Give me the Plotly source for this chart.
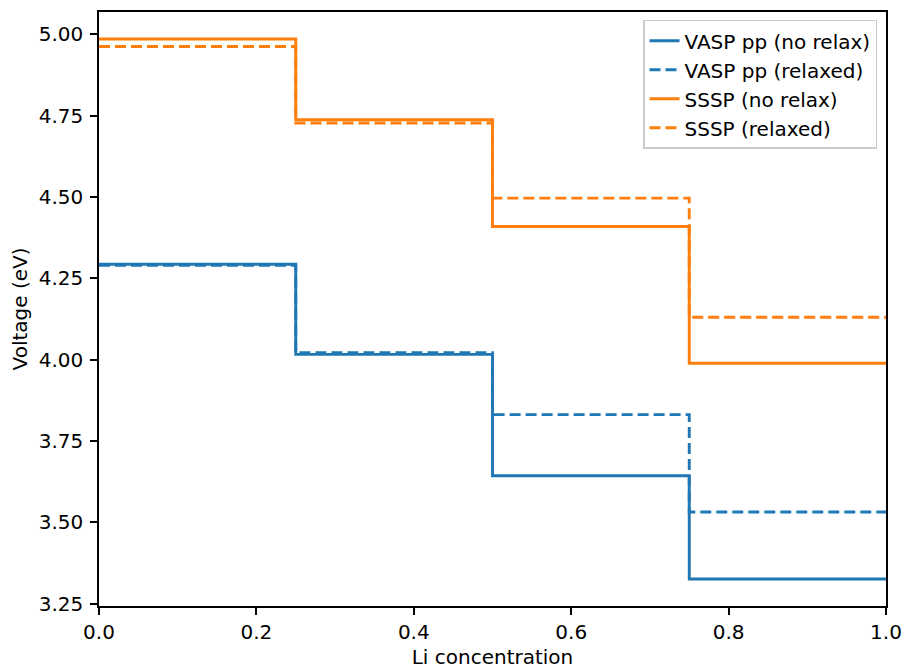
import plotly.graph_objects as go

# Li concentration breakpoints (step edges)
li_conc = [0.0, 0.25, 0.5, 0.75, 1.0]

# Average voltage on each interval (eV)
vasp_norelax = [4.293, 4.016, 3.643, 3.326]
vasp_relaxed = [4.290, 4.021, 3.831, 3.532]
sssp_norelax = [4.985, 4.737, 4.409, 3.989]
sssp_relaxed = [4.962, 4.727, 4.496, 4.130]

series_names = ["VASP pp (no relax)", "VASP pp (relaxed)",
                "SSSP (no relax)", "SSSP (relaxed)"]

BLUE = "#1f77b4"
ORANGE = "#ff7f0e"
FONT = "DejaVu Sans"
FS = 20

fig = go.Figure()

styles = [(vasp_norelax, BLUE, "solid"),
          (vasp_relaxed, BLUE, "11px,5px"),
          (sssp_norelax, ORANGE, "solid"),
          (sssp_relaxed, ORANGE, "11px,5px")]

for name, (vals, color, dash) in zip(series_names, styles):
    fig.add_trace(go.Scatter(
        x=li_conc,
        y=vals + [vals[-1]],
        mode="lines",
        name=name,
        line=dict(color=color, width=2.9, dash=dash, shape="hv"),
    ))

axis_common = dict(
    showline=True, linecolor="black", linewidth=1.6, mirror=True,
    ticks="outside", ticklen=7, tickwidth=1.6, tickcolor="black",
    showgrid=False, zeroline=False, automargin=False,
    tickfont=dict(family=FONT, size=FS, color="black"),
)

fig.update_layout(
    width=904, height=669,
    margin=dict(l=99, r=18, t=12, b=63),
    paper_bgcolor="white", plot_bgcolor="white",
    font=dict(family=FONT, size=FS, color="black"),
    xaxis=dict(range=[0, 1], tick0=0, dtick=0.2, tickformat=".1f",
               title=dict(text="Li concentration", standoff=8,
                          font=dict(family=FONT, size=FS)),
               **axis_common),
    yaxis=dict(range=[3.243, 5.068], tick0=3.25, dtick=0.25, tickformat=".2f",
               ticklabelstandoff=3,
               title=dict(text="Voltage (eV)", standoff=6,
                          font=dict(family=FONT, size=FS)),
               **axis_common),
    legend=dict(
        x=0.9886, y=0.987, xanchor="right", yanchor="top",
        bgcolor="rgba(255,255,255,0.8)", bordercolor="#cccccc", borderwidth=1.5,
        font=dict(family=FONT, size=FS, color="black"),
    ),
    showlegend=True,
)

fig.write_html("out.html")
